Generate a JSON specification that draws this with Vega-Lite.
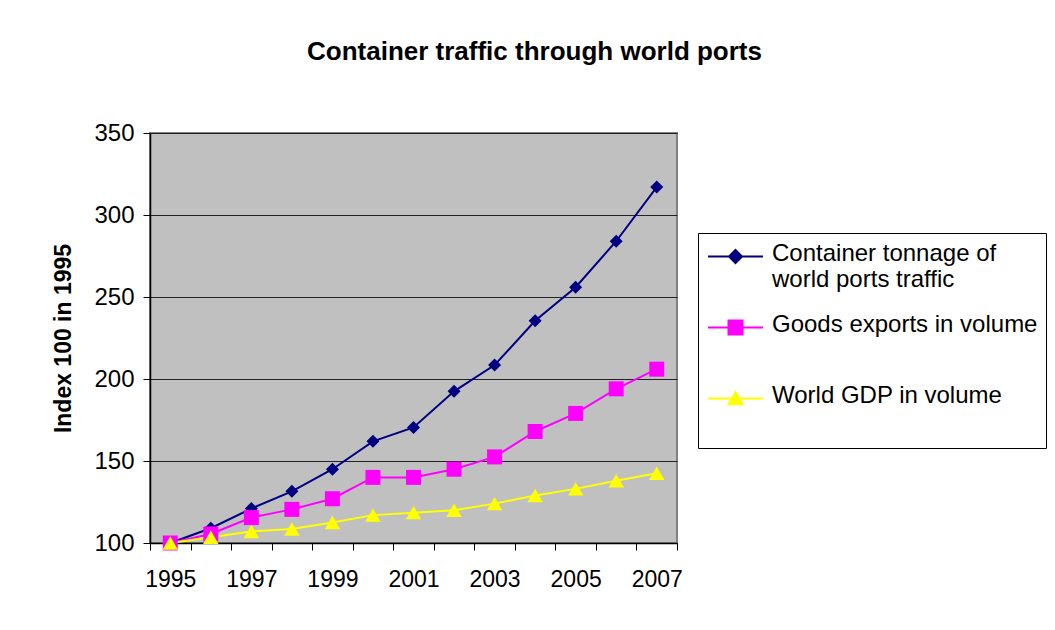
{
  "$schema": "https://vega.github.io/schema/vega-lite/v6.json",
  "autosize": {"type": "none"},
  "padding": {"left": 150, "top": 133, "right": 378, "bottom": 87},
  "width": 527,
  "height": 410,
  "background": "white",
  "title": {
    "text": "Container traffic through world ports",
    "anchor": "start",
    "frame": "group",
    "dx": 157,
    "offset": 56,
    "font": "Liberation Sans",
    "fontSize": 26,
    "fontWeight": "bold",
    "color": "black"
  },
  "config": {
    "view": {"fill": "#c0c0c0", "stroke": "#808080", "strokeWidth": 2},
    "font": "Liberation Sans",
    "legend": {
      "orient": "none",
      "legendX": 548,
      "legendY": 100,
      "strokeColor": "black",
      "strokeWidth": 1,
      "fillColor": "white",
      "padding": 8,
      "labelFont": "Liberation Sans",
      "labelFontSize": 24,
      "labelColor": "black",
      "labelLimit": 400,
      "labelOffset": 42,
      "symbolSize": 400,
      "symbolStrokeWidth": 2,
      "rowPadding": 20,
      "titleOrient": "bottom",
      "titleFontSize": 4,
      "titlePadding": 2
    }
  },
  "data": {
    "values": [
      {"year": 1995, "series": "Container tonnage of world ports traffic", "value": 100},
      {"year": 1996, "series": "Container tonnage of world ports traffic", "value": 109},
      {"year": 1997, "series": "Container tonnage of world ports traffic", "value": 121},
      {"year": 1998, "series": "Container tonnage of world ports traffic", "value": 131.5},
      {"year": 1999, "series": "Container tonnage of world ports traffic", "value": 145},
      {"year": 2000, "series": "Container tonnage of world ports traffic", "value": 162},
      {"year": 2001, "series": "Container tonnage of world ports traffic", "value": 170.5},
      {"year": 2002, "series": "Container tonnage of world ports traffic", "value": 192.5},
      {"year": 2003, "series": "Container tonnage of world ports traffic", "value": 208.5},
      {"year": 2004, "series": "Container tonnage of world ports traffic", "value": 235.5},
      {"year": 2005, "series": "Container tonnage of world ports traffic", "value": 256},
      {"year": 2006, "series": "Container tonnage of world ports traffic", "value": 284},
      {"year": 2007, "series": "Container tonnage of world ports traffic", "value": 317},
      {"year": 1995, "series": "Goods exports in volume", "value": 100},
      {"year": 1996, "series": "Goods exports in volume", "value": 105.5},
      {"year": 1997, "series": "Goods exports in volume", "value": 115.5},
      {"year": 1998, "series": "Goods exports in volume", "value": 120.5},
      {"year": 1999, "series": "Goods exports in volume", "value": 127},
      {"year": 2000, "series": "Goods exports in volume", "value": 140},
      {"year": 2001, "series": "Goods exports in volume", "value": 140},
      {"year": 2002, "series": "Goods exports in volume", "value": 145},
      {"year": 2003, "series": "Goods exports in volume", "value": 152.5},
      {"year": 2004, "series": "Goods exports in volume", "value": 168},
      {"year": 2005, "series": "Goods exports in volume", "value": 179},
      {"year": 2006, "series": "Goods exports in volume", "value": 194},
      {"year": 2007, "series": "Goods exports in volume", "value": 206},
      {"year": 1995, "series": "World GDP in volume", "value": 100},
      {"year": 1996, "series": "World GDP in volume", "value": 103.5},
      {"year": 1997, "series": "World GDP in volume", "value": 107},
      {"year": 1998, "series": "World GDP in volume", "value": 108.5},
      {"year": 1999, "series": "World GDP in volume", "value": 112.5},
      {"year": 2000, "series": "World GDP in volume", "value": 117},
      {"year": 2001, "series": "World GDP in volume", "value": 118.5},
      {"year": 2002, "series": "World GDP in volume", "value": 120},
      {"year": 2003, "series": "World GDP in volume", "value": 124},
      {"year": 2004, "series": "World GDP in volume", "value": 129},
      {"year": 2005, "series": "World GDP in volume", "value": 133},
      {"year": 2006, "series": "World GDP in volume", "value": 138},
      {"year": 2007, "series": "World GDP in volume", "value": 142.5}
    ]
  },
  "encoding": {
    "x": {
      "field": "year",
      "type": "ordinal",
      "scale": {"type": "band", "paddingInner": 0, "paddingOuter": 0},
      "axis": {
        "title": null,
        "labelAngle": 0,
        "labelFont": "Liberation Sans",
        "labelFontSize": 23,
        "labelColor": "black",
        "labelPadding": 18,
        "labelExpr": "datum.value % 2 == 1 ? datum.label : ''",
        "tickBand": "extent",
        "tickSize": 7,
        "tickColor": "black",
        "tickWidth": 1,
        "domainColor": "black",
        "domainWidth": 1.5,
        "grid": false
      }
    },
    "y": {
      "field": "value",
      "type": "quantitative",
      "scale": {"domain": [100, 350], "nice": false, "zero": false},
      "axis": {
        "title": "Index 100 in 1995",
        "titleFont": "Liberation Sans",
        "titleFontSize": 23,
        "titleFontWeight": "bold",
        "titleColor": "black",
        "titlePadding": 18,
        "values": [100, 150, 200, 250, 300, 350],
        "labelFont": "Liberation Sans",
        "labelFontSize": 24,
        "labelColor": "black",
        "labelPadding": 9,
        "tickSize": 7,
        "tickColor": "black",
        "domainColor": "black",
        "domainWidth": 1.5,
        "grid": true,
        "gridColor": "#222222",
        "gridWidth": 1
      }
    },
    "color": {
      "field": "series",
      "type": "nominal",
      "scale": {
        "domain": ["Container tonnage of world ports traffic", "Goods exports in volume", "World GDP in volume"],
        "range": ["#000080", "#ff00ff", "#ffff00"]
      },
      "legend": {
        "title": " ",
        "labelExpr": "datum.label == 'Container tonnage of world ports traffic' ? ['Container tonnage of', 'world ports traffic'] : [datum.label, ' ']",
        "labelBaseline": "top",
        "encode": {
          "labels": {"update": {"dy": {"value": -11}}},
          "symbols": {
            "update": {
              "shape": {"signal": "datum.value == 'Goods exports in volume' ? 'M-1,0.35H4.5M1.05,-0.35H2.45V1.05H1.05Z' : datum.value == 'World GDP in volume' ? 'M-1,0.35H4.5M1.75,-0.27L2.45,0.93H1.05Z' : 'M-1,0.35H4.5M1.75,-0.3L2.4,0.35L1.75,1L1.1,0.35Z'"},
              "fill": {"signal": "datum.value == 'Goods exports in volume' ? '#ff00ff' : datum.value == 'World GDP in volume' ? '#ffff00' : '#000080'"},
              "stroke": {"signal": "datum.value == 'Goods exports in volume' ? '#ff00ff' : datum.value == 'World GDP in volume' ? '#ffff00' : '#000080'"},
              "strokeWidth": {"value": 2},
              "opacity": {"value": 1}
            }
          }
        }
      }
    }
  },
  "layer": [
    {
      "mark": {"type": "line", "strokeWidth": 2}
    },
    {
      "transform": [{"filter": "datum.series == 'Container tonnage of world ports traffic'"}],
      "mark": {"type": "point", "filled": true, "opacity": 1, "shape": "diamond", "size": 169}
    },
    {
      "transform": [{"filter": "datum.series == 'Goods exports in volume'"}],
      "mark": {"type": "point", "filled": true, "opacity": 1, "shape": "square", "size": 225}
    },
    {
      "transform": [{"filter": "datum.series == 'World GDP in volume'"}],
      "mark": {"type": "point", "filled": true, "opacity": 1, "shape": "triangle-up", "size": 240}
    }
  ]
}
